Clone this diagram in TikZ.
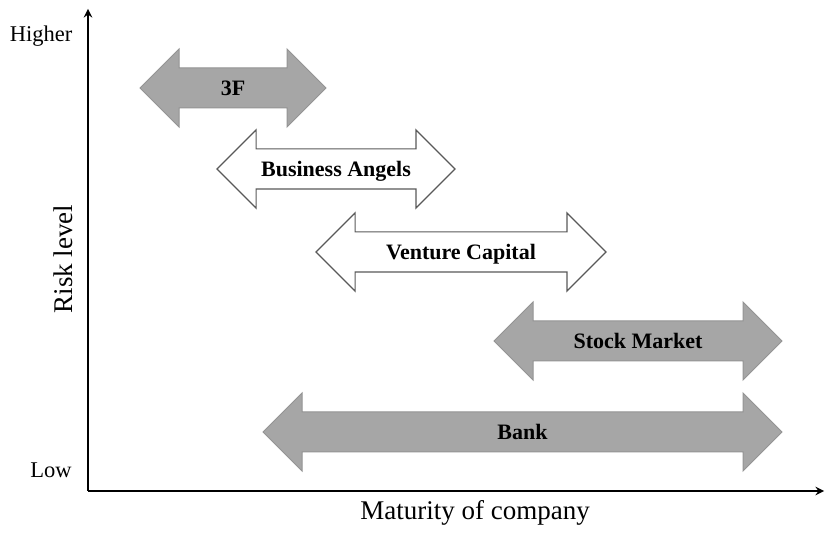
\documentclass[tikz,border=0pt]{standalone}
\usepackage{fontspec}
\setmainfont{Liberation Serif}
\usepackage{tikz}
\usetikzlibrary{shapes.arrows, arrows}
\tikzstyle{spanarrow} = [double arrow,
double arrow head extend=19pt,
double arrow tip angle=90,
minimum width=77pt,
text height=17.3pt,
text depth=2.7pt,
inner xsep=2pt,
inner ysep=9.5pt,
outer sep=0pt,
text centered,
font=\fontsize{22}{26}\selectfont\bfseries]
\tikzstyle{mature} = [spanarrow,
line width=1pt,
draw=black!42,
fill=black!35]
\tikzstyle{early} = [spanarrow,
line width=1.2pt,
draw=black!65,
fill=white]
\tikzstyle{axis} = [line width=2.7pt, ->, >=stealth]
\tikzstyle{ticklabel} = [anchor=base, inner sep=0pt, font=\fontsize{22.5}{27}\selectfont]
\tikzstyle{axislabel} = [inner sep=0pt, font=\fontsize{27}{32}\selectfont]

\begin{document}
\begin{tikzpicture}[x=1pt, y=1pt]
			\useasboundingbox (0,0) rectangle (825,533);
			\coordinate (origin) at (88,42);
			\coordinate (ytip) at (88,524);
			\coordinate (xtip) at (824,42);

			\draw[axis] (origin) -- (ytip);
			\draw[axis] (origin) -- (xtip);

			\node (higher) [ticklabel] at (41,491) {Higher};
			\node (low) [ticklabel] at (51,55) {Low};
			\node (risk) [axislabel, rotate=90] at (63.5,274) {Risk level};
			\node (maturity) [axislabel, anchor=base] at (475,13) {Maturity of company};

			\node (fff) [mature, minimum height=186pt] at (233,445) {3F};
			\node (angels) [early, minimum height=238pt] at (336,364) {Business Angels};
			\node (venture) [early, minimum height=290pt] at (461,281) {Venture Capital};
			\node (stock) [mature, minimum height=288pt] at (638,192) {Stock Market};
			\node (bank) [mature, minimum height=519pt] at (522.5,101) {Bank};
		\end{tikzpicture}
\end{document}
